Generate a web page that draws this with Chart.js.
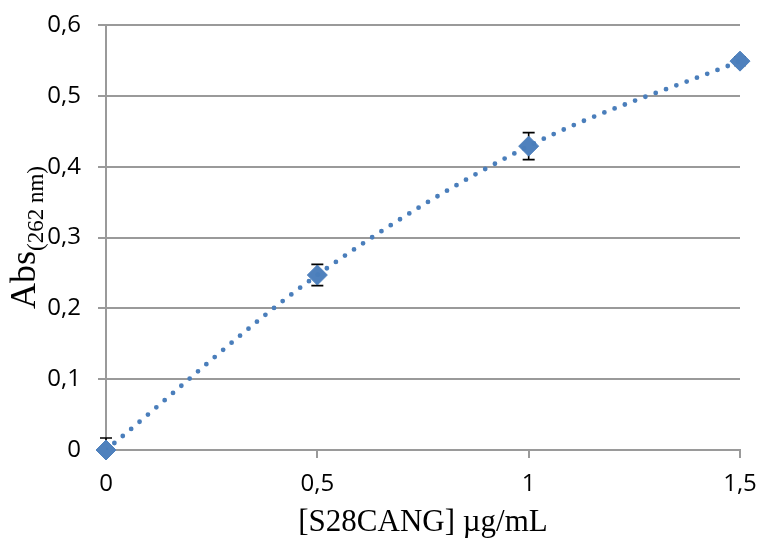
<!DOCTYPE html>
<html lang="es">
<head>
    <meta charset="UTF-8">
    <title>Curva de calibración S28CANG</title>
    <script src="https://cdn.jsdelivr.net/npm/chart.js"></script>
    <style>
        html, body {
            margin: 0;
            padding: 0;
            background: #fff;
        }
        #calibChart {
            display: block;
        }
    </style>
</head>
<body>

<canvas id="calibChart" width="761" height="543"></canvas>

<script>
    // concentración (µg/mL) y absorbancia a 262 nm
    const concentrations = [0, 0.5, 1, 1.5];
    const absorbance = [0, 0.247, 0.429, 0.549];
    const absError = [0.017, 0.015, 0.019, 0.006];

    const xTickLabels = ['0', '0,5', '1', '1,5'];
    const yTickLabels = ['0', '0,1', '0,2', '0,3', '0,4', '0,5', '0,6'];

    const gridGray = '#9a9a9a';
    const pointBlue = '#4f81bd';

    var points = concentrations.map(function (c, i) {
        return {x: c, y: absorbance[i]};
    });

    // error bars, drawn under the markers
    var errorBars = {
        id: 'errorBars',
        beforeDatasetsDraw: function (chart) {
            var ctx = chart.ctx;
            var xs = chart.scales.x;
            var ys = chart.scales.y;
            var area = chart.chartArea;
            ctx.save();
            ctx.beginPath();
            ctx.rect(area.left - 10, area.top, area.right - area.left + 20, area.bottom - area.top);
            ctx.clip();
            ctx.strokeStyle = '#000';
            ctx.lineWidth = 1.6;
            concentrations.forEach(function (c, i) {
                var x = xs.getPixelForValue(c);
                var top = ys.getPixelForValue(absorbance[i] + absError[i]);
                var bot = ys.getPixelForValue(absorbance[i] - absError[i]);
                ctx.beginPath();
                ctx.moveTo(x, top);
                ctx.lineTo(x, bot);
                ctx.moveTo(x - 6, top);
                ctx.lineTo(x + 6, top);
                ctx.moveTo(x - 6, bot);
                ctx.lineTo(x + 6, bot);
                ctx.stroke();
            });
            ctx.restore();
        }
    };

    // y title with subscript
    var yTitle = {
        id: 'yTitle',
        afterDraw: function (chart) {
            var ctx = chart.ctx;
            ctx.save();
            ctx.translate(35, 309);
            ctx.rotate(-Math.PI / 2);
            ctx.fillStyle = '#000';
            ctx.textAlign = 'left';
            ctx.textBaseline = 'alphabetic';
            ctx.font = '36px "Liberation Serif"';
            ctx.fillText('Abs', 0, 0);
            var w = ctx.measureText('Abs').width;
            ctx.font = '23px "Liberation Serif"';
            ctx.fillText('(262 nm)', w, 8);
            ctx.restore();
        }
    };

    var ctx = document.getElementById('calibChart').getContext('2d');
    var calibChart = new Chart(ctx, {
        type: 'scatter',
        data: {
            datasets: [{
                // trendline
                data: points,
                showLine: true,
                pointRadius: 0,
                borderColor: '#4a7ebb',
                borderWidth: 4.8,
                borderDash: [0, 11],
                borderCapStyle: 'round',
                cubicInterpolationMode: 'monotone',
                order: 0
            }, {
                data: points,
                pointStyle: 'rectRot',
                pointRadius: 10,
                backgroundColor: pointBlue,
                borderColor: pointBlue,
                borderWidth: 1,
                clip: false,
                order: 1
            }]
        },
        options: {
            responsive: false,
            animation: false,
            layout: {
                padding: {top: 25, right: 21, left: 0, bottom: 0}
            },
            plugins: {
                legend: {display: false},
                tooltip: {enabled: false}
            },
            scales: {
                x: {
                    type: 'linear',
                    min: 0,
                    max: 1.5,
                    afterFit: function (scale) {
                        scale.height = 93;
                        scale.paddingLeft = 0;
                        scale.paddingRight = 0;
                    },
                    ticks: {
                        stepSize: 0.5,
                        padding: 12,
                        color: '#000',
                        font: {family: '"Open Sans"', size: 24},
                        callback: function (v, i) { return xTickLabels[i]; }
                    },
                    grid: {
                        drawOnChartArea: false,
                        drawTicks: true,
                        tickLength: 8,
                        color: gridGray,
                        lineWidth: 2
                    },
                    border: {display: true, color: gridGray, width: 2},
                    title: {
                        display: true,
                        text: '[S28CANG] µg/mL',
                        color: '#000',
                        font: {family: '"Liberation Serif"', size: 31},
                        padding: {top: 0, bottom: 2}
                    }
                },
                y: {
                    min: 0,
                    max: 0.6,
                    afterFit: function (scale) {
                        scale.width = 106;
                        scale.paddingTop = 0;
                        scale.paddingBottom = 0;
                    },
                    ticks: {
                        stepSize: 0.1,
                        padding: 17,
                        color: '#000',
                        font: {family: '"Open Sans"', size: 24},
                        callback: function (v, i) { return yTickLabels[i]; }
                    },
                    grid: {
                        tickLength: 8,
                        color: gridGray,
                        lineWidth: 2
                    },
                    border: {display: true, color: gridGray, width: 2}
                }
            }
        },
        plugins: [errorBars, yTitle]
    });
</script>
</body>
</html>
